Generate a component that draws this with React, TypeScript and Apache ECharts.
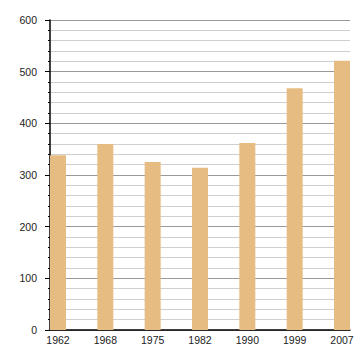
import React, { useEffect, useRef } from "react";
import * as echarts from "echarts";

const categories = ["1962", "1968", "1975", "1982", "1990", "1999", "2007"];
const values = [338, 360, 325, 314, 362, 468, 521];
const yTicks = { min: 0, max: 600, interval: 100 };

export default function App() {
  const ref = useRef<HTMLDivElement>(null);
  useEffect(() => {
    if (!ref.current) return;
    const chart = echarts.init(ref.current, undefined, { renderer: "svg" });
    const font = "Liberation Sans, Arial, sans-serif";
    chart.setOption({
      animation: false,
      backgroundColor: "#ffffff",
      grid: [
        { left: 50, right: 10, top: 20, bottom: 30 },
        { left: 58, right: 18, top: 20, bottom: 30 },
      ],
      xAxis: [
        {
          type: "value",
          gridIndex: 0,
          min: 0,
          max: 1,
          axisLine: { show: true, onZero: false, lineStyle: { color: "#000", width: 1.5 } },
          axisTick: { show: false },
          axisLabel: { show: false },
          splitLine: { show: false },
        },
        {
          type: "category",
          gridIndex: 1,
          data: categories,
          boundaryGap: false,
          axisLine: { show: false },
          axisTick: { show: false },
          axisLabel: { color: "#222", fontSize: 10.5, fontFamily: font, margin: 4, interval: 0 },
          splitLine: { show: false },
        },
      ],
      yAxis: [
        {
          type: "value",
          gridIndex: 0,
          min: yTicks.min,
          max: yTicks.max,
          interval: yTicks.interval,
          axisLine: { show: true, lineStyle: { color: "#000", width: 1.5 } },
          axisTick: { show: true, length: 5, lineStyle: { color: "#000" } },
          minorTick: { show: true, splitNumber: 5, length: 2, lineStyle: { color: "#000" } },
          axisLabel: { color: "#222", fontSize: 10.5, fontFamily: font, margin: 13 },
          splitLine: { show: true, lineStyle: { color: "#999", width: 1 } },
          minorSplitLine: { show: true, lineStyle: { color: "#cfcfcf", width: 1 } },
        },
        {
          type: "value",
          gridIndex: 1,
          min: yTicks.min,
          max: yTicks.max,
          show: false,
        },
      ],
      series: [
        {
          type: "bar",
          xAxisIndex: 1,
          yAxisIndex: 1,
          data: values,
          barWidth: 16,
          itemStyle: { color: "#e7bc83" },
        },
      ],
    });
    return () => chart.dispose();
  }, []);
  return <div ref={ref} style={{ width: 360, height: 360, position: "absolute", left: 0, top: 0 }} />;
}
